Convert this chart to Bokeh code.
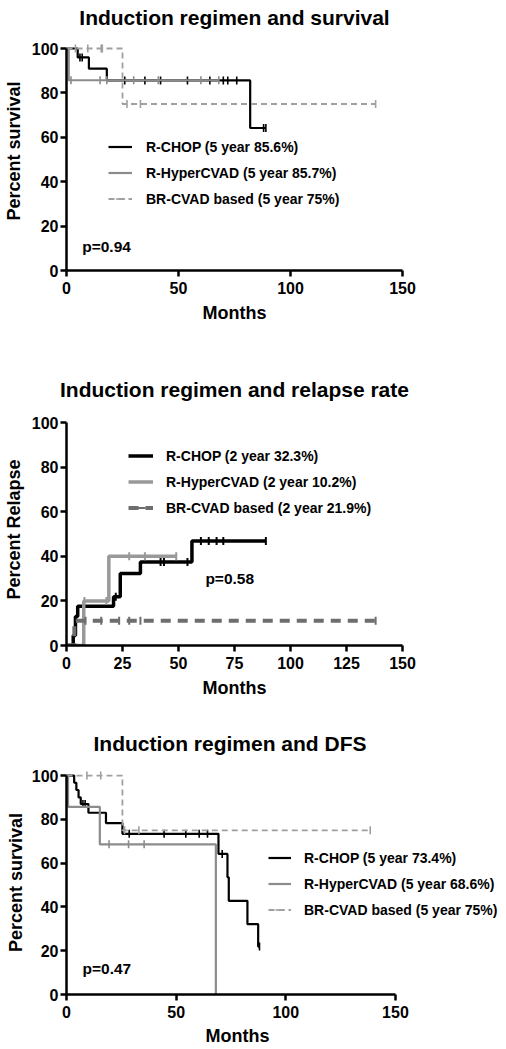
import numpy as np
from bokeh.plotting import figure
from bokeh.models import Range1d, Legend, LegendItem, Label, FixedTicker, Title
from bokeh.layouts import column
from bokeh.embed import file_html
from bokeh.resources import INLINE

FONT = "Liberation Sans"

# ---------------- Panel 1: overall survival ----------------
os_title = "Induction regimen and survival"
os_ylabel = "Percent survival"
os_pvalue = "p=0.94"
os_labels = ["R-CHOP (5 year 85.6%)", "R-HyperCVAD (5 year 85.7%)", "BR-CVAD based (5 year 75%)"]
os_rchop_t = [0, 5, 10, 18, 82, 89]
os_rchop_v = [100, 96.0, 90.9, 85.6, 64.2, 64.2]
os_rchop_c = [6, 7, 26, 35, 42, 54, 64, 70, 72, 76, 88, 89]
os_rhyper_t = [0, 1, 68]
os_rhyper_v = [100, 85.7, 85.7]
os_rhyper_c = [2, 15, 18, 30, 41, 60, 68]
os_brcvad_t = [0, 25, 138]
os_brcvad_v = [100, 75, 75]
os_brcvad_c = [4, 9.5, 15.5, 16, 27, 33, 138]

# ---------------- Panel 2: relapse ----------------
rel_title = "Induction regimen and relapse rate"
rel_ylabel = "Percent Relapse"
rel_pvalue = "p=0.58"
rel_labels = ["R-CHOP (2 year 32.3%)", "R-HyperCVAD (2 year 10.2%)", "BR-CVAD based (2 year 21.9%)"]
rel_rchop_t = [0, 3, 4, 5, 21, 24, 33, 56, 89]
rel_rchop_v = [0, 4.5, 13.0, 17.6, 21.9, 32.3, 37.5, 46.9, 46.9]
rel_rchop_c = [22, 42, 43.5, 54, 60, 63.5, 67, 70, 89]
rel_rhyper_t = [0, 7.7, 18.9, 49]
rel_rhyper_v = [0, 20.0, 40.0, 40.0]
rel_rhyper_c = [8, 17.8, 28, 35, 49]
rel_brcvad_t = [0, 3.5, 138]
rel_brcvad_v = [0, 11.1, 11.1]
rel_brcvad_c = [8.5, 15.5, 23.5, 28, 33, 138]

# ---------------- Panel 3: DFS ----------------
dfs_title = "Induction regimen and DFS"
dfs_ylabel = "Percent survival"
dfs_pvalue = "p=0.47"
dfs_labels = ["R-CHOP (5 year 73.4%)", "R-HyperCVAD (5 year 68.6%)", "BR-CVAD based (5 year 75%)"]
dfs_rchop_t = [0, 3.5, 4.5, 5.5, 6.5, 10, 18, 25.5, 69.3, 73.4, 74, 82.5, 87.4, 88]
dfs_rchop_v = [100, 96.7, 93.4, 90.0, 87.0, 83.0, 78.3, 73.4, 64.2, 53.5, 42.8, 32.1, 21.9, 21.9]
dfs_rchop_c = [7.5, 8.5, 28.6, 44.5, 54.4, 60.5, 64.3, 71, 88]
dfs_rhyper_t = [0, 0.7, 15.2, 68.1]
dfs_rhyper_v = [100, 85.7, 68.6, 0]
dfs_rhyper_c = [19.4, 28.3, 35.4]
dfs_brcvad_t = [0, 25.5, 138.5]
dfs_brcvad_v = [100, 75, 75]
dfs_brcvad_c = [9.3, 15.6, 26.5, 33, 138.5]

x_label = "Months"
y_ticks = [0, 20, 40, 60, 80, 100]
x_ticks_a = [0, 50, 100, 150]
x_ticks_b = [0, 25, 50, 75, 100, 125, 150]


def step_at(ts, vs, t):
    i = int(np.searchsorted(ts, t, side="right")) - 1
    return vs[max(i, 0)]


def make_panel(cfg, series):
    p = figure(frame_width=cfg["fw"], frame_height=cfg["fh"],
               x_range=Range1d(0, cfg["x_end"]), y_range=Range1d(0, cfg["y_end"]),
               output_backend="svg", toolbar_location=None,
               min_border_left=cfg["bl"], min_border_right=max(490 - cfg["bl"] - cfg["fw"], 0),
               min_border_top=0, min_border_bottom=cfg["bb"])
    p.outline_line_color = None
    p.grid.visible = False
    p.background_fill_color = "white"
    p.border_fill_color = "white"
    for ax in (p.xaxis[0], p.yaxis[0]):
        ax.axis_line_width = 2.5
        ax.axis_line_color = "black"
        ax.major_tick_line_width = 2.5
        ax.major_tick_line_color = "black"
        ax.major_tick_out = 6
        ax.major_tick_in = 0
        ax.minor_tick_line_color = None
        ax.major_label_text_font = FONT
        ax.major_label_text_font_size = "16px"
        ax.major_label_text_font_style = "bold"
        ax.major_label_text_color = "black"
        ax.axis_label_text_font = FONT
        ax.axis_label_text_font_size = "18px"
        ax.axis_label_text_font_style = "bold"
        ax.axis_label_text_color = "black"
    p.yaxis.axis_label = cfg["ylabel"]
    p.xaxis.ticker = FixedTicker(ticks=cfg["xticks"])
    p.yaxis.ticker = FixedTicker(ticks=y_ticks)
    p.xaxis.bounds = (0, 150)
    p.yaxis.bounds = (0, 100)
    p.xaxis.major_label_standoff = 5
    p.yaxis.major_label_standoff = 2
    p.xaxis.axis_label_standoff = 6
    p.yaxis.axis_label_standoff = cfg["yls"]

    p.title.text = cfg["title"]
    p.title.text_font = FONT
    p.title.text_font_size = "21px"
    p.title.text_font_style = "bold"
    p.title.text_color = "black"
    p.title.standoff = cfg["title_standoff"]
    if cfg["title_offset"] is None:
        p.title.align = "center"
    else:
        p.title.align = "left"
        p.title.offset = cfg["title_offset"]

    if cfg["months_offset"] is None:
        p.xaxis.axis_label = x_label
    else:
        p.add_layout(Title(text=x_label, align="left", offset=cfg["months_offset"], standoff=10,
                           vertical_align="top", text_font=FONT, text_font_size="18px",
                           text_font_style="bold", text_color="black"), "below")

    items = []
    for (label, ts, vs, cs, color, lw, dash, tick_w) in series:
        r1 = p.step(ts, vs, mode="after", line_color=color, line_width=lw, line_dash=dash)
        cy = [step_at(ts, vs, c) for c in cs]
        r2 = p.scatter(cs, cy, marker="dash", angle=np.pi / 2, size=8, line_color=color, line_width=tick_w)
        items.append(LegendItem(label=label, renderers=[r1, r2]))
    leg = Legend(items=items, location=cfg["leg_loc"], glyph_width=cfg["glyph_w"], glyph_height=23,
                 label_height=23, spacing=3, padding=0, margin=0, label_standoff=cfg["leg_standoff"],
                 label_text_font=FONT, label_text_font_size="14px", label_text_font_style="bold",
                 label_text_color="black", background_fill_alpha=0, border_line_alpha=0)
    p.add_layout(leg, "center")
    p.add_layout(Label(x=cfg["p_xy"][0], y=cfg["p_xy"][1], text=cfg["pval"], text_font=FONT,
                       text_font_size="15.5px", text_font_style="bold", text_baseline="middle",
                       text_color="black"))
    return p


BLACK = "#000000"

cfg1 = dict(title=os_title, title_standoff=6, title_offset=None, ylabel=os_ylabel, xticks=x_ticks_a,
            x_end=150, fw=336, fh=239, y_end=107.66, bl=66, bb=92, yls=5, months_offset=None,
            leg_loc=(42, 60), glyph_w=24, leg_standoff=14, pval=os_pvalue, p_xy=(7, 11))
p1 = make_panel(cfg1, [
    (os_labels[0], os_rchop_t, os_rchop_v, os_rchop_c, BLACK, 2.2, "solid", 1.6),
    (os_labels[1], os_rhyper_t, os_rhyper_v, os_rhyper_c, "#8c8c8c", 2.2, "solid", 1.6),
    (os_labels[2], os_brcvad_t, os_brcvad_v, os_brcvad_c, "#a0a0a0", 1.8, "6 4", 1.6),
])

cfg2 = dict(title=rel_title, title_standoff=26, title_offset=None, ylabel=rel_ylabel, xticks=x_ticks_b,
            x_end=150, fw=336, fh=232, y_end=104.04, bl=66, bb=68, yls=5, months_offset=None,
            leg_loc=(62, 126), glyph_w=25, leg_standoff=13, pval=rel_pvalue, p_xy=(62, 30))
p2 = make_panel(cfg2, [
    (rel_labels[0], rel_rchop_t, rel_rchop_v, rel_rchop_c, BLACK, 3.5, "solid", 2),
    (rel_labels[1], rel_rhyper_t, rel_rhyper_v, rel_rhyper_c, "#999999", 3.5, "solid", 2),
    (rel_labels[2], rel_brcvad_t, rel_brcvad_v, rel_brcvad_c, "#6e6e6e", 4, "10 7", 2),
])

cfg3 = dict(title=dfs_title, title_standoff=32, title_offset=27, ylabel=dfs_ylabel, xticks=x_ticks_a,
            x_end=197.9, fw=434, fh=224, y_end=102.3, bl=64, bb=0, yls=3, months_offset=139,
            leg_loc=(204, 73), glyph_w=23, leg_standoff=13, pval=dfs_pvalue, p_xy=(7.3, 11.9))
p3 = make_panel(cfg3, [
    (dfs_labels[0], dfs_rchop_t, dfs_rchop_v, dfs_rchop_c, BLACK, 2.2, "solid", 1.6),
    (dfs_labels[1], dfs_rhyper_t, dfs_rhyper_v, dfs_rhyper_c, "#8c8c8c", 2.2, "solid", 1.6),
    (dfs_labels[2], dfs_brcvad_t, dfs_brcvad_v, dfs_brcvad_c, "#a0a0a0", 1.8, "6 4", 1.6),
])

layout = column(p1, p2, p3, spacing=0)
open("out.html", "w").write(file_html(layout, INLINE))
